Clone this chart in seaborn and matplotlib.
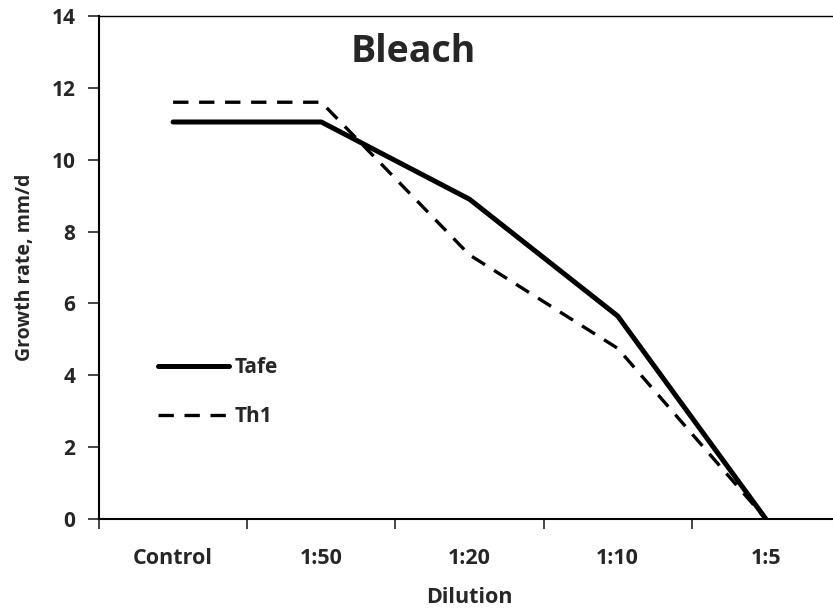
import numpy as np
import pandas as pd
import seaborn as sns
import matplotlib.pyplot as plt
from matplotlib.ticker import FixedLocator
from matplotlib.lines import Line2D

dilutions = ['Control', '1:50', '1:20', '1:10', '1:5']
tafe = [11.05, 11.05, 8.9, 5.65, 0.0]
th1 = [11.6, 11.6, 7.35, 4.75, 0.0]
y_ticks = [0, 2, 4, 6, 8, 10, 12, 14]

df = pd.DataFrame({
	'Dilution': dilutions * 2,
	'Growth': tafe + th1,
	'Strain': ['Tafe'] * len(dilutions) + ['Th1'] * len(dilutions),
})

sns.set_style('white')
plt.rcParams['font.family'] = ['Open Sans', 'DejaVu Sans']
plt.rcParams['font.weight'] = 'bold'

lw_tafe = 3.6
lw_th1 = 2.4
dash_th1 = (4.6, 3.2)

fig = plt.figure(figsize=(8.33, 6.1), dpi=100)
ax = fig.add_axes([99/833, 91/610, 741/833, 503/610])

ax = sns.lineplot(data=df, x='Dilution', y='Growth', style='Strain', size='Strain',
				  sizes={'Tafe': lw_tafe, 'Th1': lw_th1},
				  dashes={'Tafe': '', 'Th1': dash_th1},
				  color='black', ax=ax, legend=False)

ax.set_xlim(-0.5, len(dilutions) - 0.5)
ax.set_ylim(0, 14)
ax.set_yticks(y_ticks)
ax.set_xticks(range(len(dilutions)))
ax.set_xticklabels(dilutions, fontsize=15.5, fontweight='bold')
ax.xaxis.set_minor_locator(FixedLocator(np.arange(-0.5, len(dilutions), 1.0)))
ax.tick_params(axis='x', which='major', length=0, pad=21)
ax.tick_params(axis='x', which='minor', direction='out', length=7, width=1.2, bottom=True)
ax.tick_params(axis='y', direction='out', length=8, width=1.2, left=True, labelsize=15, pad=9)
for lbl in ax.get_yticklabels():
	lbl.set_fontweight('bold')

for side in ['left', 'bottom']:
	ax.spines[side].set_linewidth(1.5)
	ax.spines[side].set_color('black')
ax.spines['top'].set_linewidth(1.0)
ax.spines['top'].set_color('black')
ax.spines['right'].set_visible(False)

ax.set_xlabel('Dilution', fontsize=15.5, fontweight='bold', labelpad=13)
ax.set_ylabel('Growth rate, mm/d', fontsize=14, fontweight='bold', labelpad=12)
ax.text(0.424, 0.928, 'Bleach', transform=ax.transAxes, ha='center', va='center',
		fontsize=27, fontweight='bold')

handles = [Line2D([], [], color='black', lw=lw_tafe),
		   Line2D([], [], color='black', lw=lw_th1, dashes=dash_th1)]
leg = ax.legend(handles, ['Tafe', 'Th1'], loc='upper left', bbox_to_anchor=(0.08, 0.322),
				frameon=False, handlelength=3.4, handletextpad=0.25, labelspacing=1.35,
				borderpad=0, borderaxespad=0,
				prop={'size': 15, 'weight': 'bold'})

fig.savefig('out.png', dpi=100)
